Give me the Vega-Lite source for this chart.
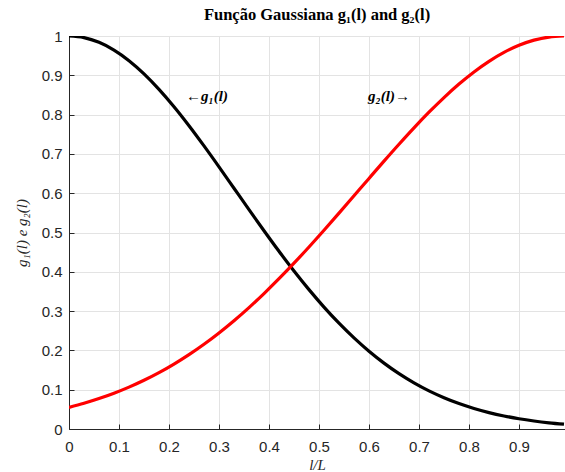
{
  "$schema": "https://vega.github.io/schema/vega-lite/v6.json",
  "width": 496,
  "height": 393,
  "autosize": "none",
  "padding": {"left": 69, "top": 36, "right": 0, "bottom": 43},
  "background": "white",
  "title": {
    "text": "Função Gaussiana g₁(l) and g₂(l)",
    "font": "Liberation Serif",
    "fontSize": 16.5,
    "fontWeight": "bold",
    "color": "#000000",
    "anchor": "middle",
    "offset": 6
  },
  "config": {
    "view": {"stroke": null},
    "axis": {
      "labelFont": "Liberation Sans",
      "labelFontSize": 15,
      "labelColor": "#262626",
      "labelOverlap": false,
      "domainColor": "#262626",
      "tickColor": "#262626",
      "gridColor": "#e3e3e3",
      "titleFont": "Liberation Serif",
      "titleFontStyle": "italic",
      "titleFontWeight": "normal",
      "titleFontSize": 15,
      "titleColor": "#262626",
      "tickSize": -5
    }
  },
  "datasets": {
    "curves": [
      {"x": 0.00, "y": 1.0000, "s": "g1"}, {"x": 0.03, "y": 0.9960, "s": "g1"}, {"x": 0.06, "y": 0.9839, "s": "g1"}, {"x": 0.09, "y": 0.9642, "s": "g1"},
      {"x": 0.12, "y": 0.9373, "s": "g1"}, {"x": 0.15, "y": 0.9037, "s": "g1"}, {"x": 0.18, "y": 0.8643, "s": "g1"}, {"x": 0.21, "y": 0.8200, "s": "g1"},
      {"x": 0.24, "y": 0.7717, "s": "g1"}, {"x": 0.27, "y": 0.7203, "s": "g1"}, {"x": 0.30, "y": 0.6670, "s": "g1"}, {"x": 0.33, "y": 0.6126, "s": "g1"},
      {"x": 0.36, "y": 0.5581, "s": "g1"}, {"x": 0.39, "y": 0.5044, "s": "g1"}, {"x": 0.42, "y": 0.4521, "s": "g1"}, {"x": 0.45, "y": 0.4020, "s": "g1"},
      {"x": 0.48, "y": 0.3546, "s": "g1"}, {"x": 0.51, "y": 0.3102, "s": "g1"}, {"x": 0.54, "y": 0.2692, "s": "g1"}, {"x": 0.57, "y": 0.2318, "s": "g1"},
      {"x": 0.60, "y": 0.1979, "s": "g1"}, {"x": 0.63, "y": 0.1676, "s": "g1"}, {"x": 0.66, "y": 0.1408, "s": "g1"}, {"x": 0.69, "y": 0.1174, "s": "g1"},
      {"x": 0.72, "y": 0.0970, "s": "g1"}, {"x": 0.75, "y": 0.0796, "s": "g1"}, {"x": 0.78, "y": 0.0647, "s": "g1"}, {"x": 0.81, "y": 0.0522, "s": "g1"},
      {"x": 0.84, "y": 0.0418, "s": "g1"}, {"x": 0.87, "y": 0.0332, "s": "g1"}, {"x": 0.90, "y": 0.0261, "s": "g1"}, {"x": 0.93, "y": 0.0204, "s": "g1"},
      {"x": 0.96, "y": 0.0158, "s": "g1"}, {"x": 0.99, "y": 0.0122, "s": "g1"},
      {"x": 0.00, "y": 0.0550, "s": "g2"}, {"x": 0.03, "y": 0.0654, "s": "g2"}, {"x": 0.06, "y": 0.0774, "s": "g2"}, {"x": 0.09, "y": 0.0910, "s": "g2"},
      {"x": 0.12, "y": 0.1065, "s": "g2"}, {"x": 0.15, "y": 0.1240, "s": "g2"}, {"x": 0.18, "y": 0.1435, "s": "g2"}, {"x": 0.21, "y": 0.1653, "s": "g2"},
      {"x": 0.24, "y": 0.1893, "s": "g2"}, {"x": 0.27, "y": 0.2157, "s": "g2"}, {"x": 0.30, "y": 0.2445, "s": "g2"}, {"x": 0.33, "y": 0.2756, "s": "g2"},
      {"x": 0.36, "y": 0.3090, "s": "g2"}, {"x": 0.39, "y": 0.3447, "s": "g2"}, {"x": 0.42, "y": 0.3824, "s": "g2"}, {"x": 0.45, "y": 0.4220, "s": "g2"},
      {"x": 0.48, "y": 0.4632, "s": "g2"}, {"x": 0.51, "y": 0.5057, "s": "g2"}, {"x": 0.54, "y": 0.5493, "s": "g2"}, {"x": 0.57, "y": 0.5934, "s": "g2"},
      {"x": 0.60, "y": 0.6376, "s": "g2"}, {"x": 0.63, "y": 0.6815, "s": "g2"}, {"x": 0.66, "y": 0.7245, "s": "g2"}, {"x": 0.69, "y": 0.7662, "s": "g2"},
      {"x": 0.72, "y": 0.8060, "s": "g2"}, {"x": 0.75, "y": 0.8433, "s": "g2"}, {"x": 0.78, "y": 0.8777, "s": "g2"}, {"x": 0.81, "y": 0.9086, "s": "g2"},
      {"x": 0.84, "y": 0.9356, "s": "g2"}, {"x": 0.87, "y": 0.9583, "s": "g2"}, {"x": 0.90, "y": 0.9763, "s": "g2"}, {"x": 0.93, "y": 0.9894, "s": "g2"},
      {"x": 0.96, "y": 0.9973, "s": "g2"}, {"x": 0.99, "y": 1.0000, "s": "g2"}
    ],
    "labels": [
      {"x": 0.234, "y": 0.835, "t": "←g₁(l)"},
      {"x": 0.598, "y": 0.835, "t": "g₂(l)→"}
    ]
  },
  "encoding": {
    "x": {
      "field": "x", "type": "quantitative",
      "scale": {"domain": [0, 0.992], "nice": false, "zero": false},
      "axis": {"values": [0, 0.1, 0.2, 0.3, 0.4, 0.5, 0.6, 0.7, 0.8, 0.9], "format": "~g", "title": "l/L", "titlePadding": 3, "labelPadding": 15, "labelFlush": false}
    },
    "y": {
      "field": "y", "type": "quantitative",
      "scale": {"domain": [0, 1], "nice": false},
      "axis": {"values": [0, 0.1, 0.2, 0.3, 0.4, 0.5, 0.6, 0.7, 0.8, 0.9, 1], "format": "~g", "title": "g₁(l) e g₂(l)", "titlePadding": 12, "labelPadding": 12}
    }
  },
  "layer": [
    {
      "data": {"name": "curves"},
      "mark": {"type": "line", "strokeWidth": 3.2, "interpolate": "monotone", "clip": true},
      "encoding": {
        "color": {
          "field": "s", "type": "nominal",
          "scale": {"domain": ["g1", "g2"], "range": ["#000000", "#ff0000"]},
          "legend": null
        }
      }
    },
    {
      "data": {"name": "labels"},
      "mark": {"type": "text", "align": "left", "baseline": "alphabetic", "font": "Liberation Serif", "fontSize": 15, "fontWeight": "bold", "fontStyle": "italic", "color": "#000000"},
      "encoding": {
        "text": {"field": "t"}
      }
    }
  ]
}
